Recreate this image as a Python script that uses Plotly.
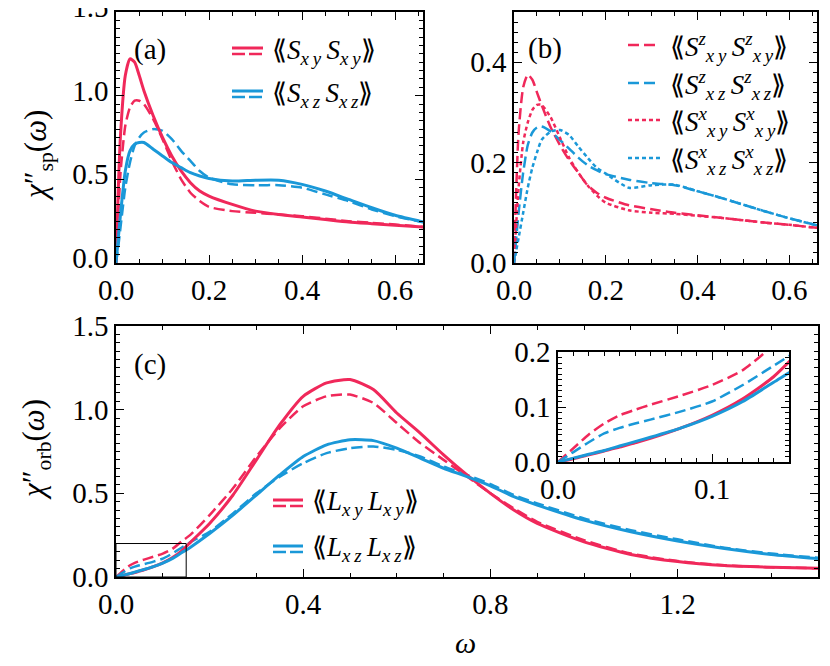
import plotly.graph_objects as go

W, H = 830, 666
OFF = 8  # default page margin around the plot div
FONT = 'Liberation Serif'
RED = '#F0285A'
BLUE = '#1A98D8'

# ---- panel (a): spin, in-plane / out-of-plane ----
w_sp = [0, 0.005, 0.01, 0.02, 0.03, 0.04, 0.05, 0.06, 0.08, 0.10, 0.12, 0.14,
        0.16, 0.18, 0.20, 0.25, 0.30, 0.35, 0.40, 0.45, 0.50, 0.55, 0.60, 0.66]
sxy = [0, 0.45, 0.78, 1.12, 1.22, 1.20, 1.12, 1.03, 0.88, 0.75, 0.64, 0.55,
       0.48, 0.43, 0.40, 0.35, 0.31, 0.29, 0.275, 0.26, 0.245, 0.235, 0.225, 0.215]
sxy_d = [0, 0.30, 0.55, 0.82, 0.93, 0.97, 0.97, 0.95, 0.86, 0.74, 0.61, 0.50,
         0.42, 0.37, 0.335, 0.31, 0.30, 0.29, 0.28, 0.265, 0.25, 0.24, 0.23, 0.215]
sxz = [0, 0.15, 0.30, 0.55, 0.67, 0.71, 0.72, 0.72, 0.68, 0.64, 0.60, 0.57,
       0.54, 0.52, 0.505, 0.49, 0.495, 0.495, 0.47, 0.43, 0.38, 0.33, 0.285, 0.245]
sxz_d = [0, 0.10, 0.22, 0.45, 0.60, 0.70, 0.75, 0.78, 0.80, 0.79, 0.74, 0.67,
         0.61, 0.55, 0.51, 0.47, 0.465, 0.465, 0.45, 0.41, 0.37, 0.32, 0.28, 0.245]

# ---- panel (b): spin components ----
szxy = [0, 0.15, 0.26, 0.35, 0.375, 0.365, 0.34, 0.315, 0.27, 0.235, 0.205, 0.18,
        0.155, 0.14, 0.13, 0.115, 0.107, 0.10, 0.095, 0.09, 0.085, 0.08, 0.076, 0.07]
szxz = [0, 0.05, 0.10, 0.18, 0.235, 0.26, 0.27, 0.272, 0.262, 0.245, 0.228, 0.21,
        0.195, 0.185, 0.177, 0.166, 0.159, 0.155, 0.143, 0.13, 0.116, 0.102, 0.089, 0.075]
sxxy = [0, 0.08, 0.15, 0.24, 0.28, 0.305, 0.315, 0.315, 0.29, 0.25, 0.21, 0.18,
        0.155, 0.135, 0.12, 0.105, 0.10, 0.098, 0.094, 0.09, 0.085, 0.08, 0.076, 0.07]
sxxz = [0, 0.025, 0.05, 0.10, 0.15, 0.19, 0.22, 0.245, 0.262, 0.265, 0.255, 0.232,
        0.21, 0.19, 0.178, 0.150, 0.155, 0.156, 0.143, 0.13, 0.116, 0.102, 0.089, 0.075]

# ---- panel (c): orbital ----
w_orb = [0, 0.01, 0.02, 0.03, 0.04, 0.05, 0.06, 0.08, 0.10, 0.12, 0.14, 0.16, 0.20,
         0.25, 0.30, 0.35, 0.40, 0.45, 0.50, 0.55, 0.60, 0.65, 0.70, 0.75, 0.80,
         0.85, 0.90, 1.0, 1.1, 1.2, 1.3, 1.4, 1.5]
lxy = [0, 0.006, 0.013, 0.02, 0.027, 0.035, 0.043, 0.062, 0.085, 0.115, 0.155, 0.21, 0.32,
       0.49, 0.70, 0.91, 1.08, 1.16, 1.18, 1.12, 0.98, 0.86, 0.73, 0.61, 0.50,
       0.40, 0.32, 0.21, 0.135, 0.092, 0.068, 0.058, 0.052]
lxy_d = [0, 0.025, 0.05, 0.07, 0.085, 0.095, 0.104, 0.121, 0.14, 0.167, 0.212, 0.255, 0.37,
         0.53, 0.72, 0.89, 1.02, 1.08, 1.09, 1.04, 0.92, 0.80, 0.70, 0.60, 0.50,
         0.41, 0.33, 0.22, 0.14, 0.095, 0.07, 0.058, 0.052]
lxz = [0, 0.007, 0.014, 0.021, 0.029, 0.037, 0.045, 0.062, 0.083, 0.11, 0.145, 0.18, 0.26,
       0.37, 0.49, 0.61, 0.72, 0.79, 0.82, 0.815, 0.77, 0.71, 0.65, 0.60, 0.545,
       0.48, 0.43, 0.34, 0.27, 0.215, 0.17, 0.135, 0.11]
lxz_d = [0, 0.018, 0.036, 0.052, 0.062, 0.07, 0.077, 0.092, 0.11, 0.14, 0.175, 0.21, 0.27,
         0.38, 0.50, 0.60, 0.68, 0.74, 0.77, 0.78, 0.76, 0.72, 0.66, 0.61, 0.555,
         0.49, 0.44, 0.35, 0.28, 0.225, 0.175, 0.14, 0.115]

INSET_X = [0, 0.15]
INSET_Y = [0, 0.2]

FW, FH = W - OFF, H - OFF


def px(x):
    return (x - OFF) / FW


def py(y):
    return 1 - (y - OFF) / FH


fig = go.Figure()


def add_line(x, y, color, dash, xa, ya, width=3):
    fig.add_trace(go.Scatter(
        x=x, y=y, mode='lines', xaxis=xa, yaxis=ya,
        line=dict(color=color, dash=dash, width=width, shape='spline', smoothing=0.6),
        showlegend=False, hoverinfo='skip'))


DASH = '11px,5px'
SHORT = '4px,3px'

add_line(w_sp, sxy_d, RED, DASH, 'x', 'y', 2.5)
add_line(w_sp, sxz_d, BLUE, DASH, 'x', 'y', 2.5)
add_line(w_sp, sxy, RED, 'solid', 'x', 'y')
add_line(w_sp, sxz, BLUE, 'solid', 'x', 'y')

add_line(w_sp, szxy, RED, DASH, 'x2', 'y2', 2.5)
add_line(w_sp, szxz, BLUE, DASH, 'x2', 'y2', 2.5)
add_line(w_sp, sxxy, RED, SHORT, 'x2', 'y2', 2.5)
add_line(w_sp, sxxz, BLUE, SHORT, 'x2', 'y2', 2.5)

for xa, ya in [('x3', 'y3'), ('x4', 'y4')]:
    add_line(w_orb, lxy_d, RED, DASH, xa, ya, 2.5)
    add_line(w_orb, lxz_d, BLUE, DASH, xa, ya, 2.5)
    add_line(w_orb, lxy, RED, 'solid', xa, ya)
    add_line(w_orb, lxz, BLUE, 'solid', xa, ya)


def axis(rng, dom, anchor, vals, minor, size=29, shift=0):
    return dict(
        range=rng, domain=dom, anchor=anchor, automargin=False,
        ticklabeloverflow='allow', ticklabelshift=shift,
        showline=True, linecolor='black', linewidth=1.6, mirror='ticks',
        ticks='inside', ticklen=8, tickwidth=1.3, tickcolor='black',
        tickmode='array', tickvals=vals, ticktext=[f'{v:.1f}' for v in vals],
        minor=dict(ticks='inside', ticklen=4, tickwidth=1, tickcolor='black',
                   tick0=0, dtick=minor),
        showgrid=False, zeroline=False,
        tickfont=dict(family=FONT, size=size, color='black'))


fig.update_layout(
    width=FW, height=FH, margin=dict(l=0, r=0, t=0, b=0),
    plot_bgcolor='white',
    font=dict(family=FONT),
    xaxis=axis([0, 0.66], [px(116), px(423)], 'y', [0, 0.2, 0.4, 0.6], 0.05),
    yaxis=axis([0, 1.5], [py(263), py(12)], 'x', [0, 0.5, 1.0, 1.5], 0.05, shift=-5),
    xaxis2=axis([0, 0.66], [px(514), px(817)], 'y2', [0, 0.2, 0.4, 0.6], 0.05),
    yaxis2=axis([0, 0.5], [py(263), py(12)], 'x2', [0, 0.2, 0.4], 0.02),
    xaxis3=axis([0, 1.5], [px(116), px(818)], 'y3', [0, 0.4, 0.8, 1.2], 0.1),
    yaxis3=axis([0, 1.5], [py(577), py(326)], 'x3', [0, 0.5, 1.0, 1.5], 0.05),
    xaxis4=axis(INSET_X, [px(558), px(789)], 'y4', [0, 0.1], 0.01),
    yaxis4=axis(INSET_Y, [py(462), py(352)], 'x4', [0, 0.1, 0.2], 0.01),
)

shapes = []
annotations = []


def glyph(x0, x1, y, color, dash, width=3):
    shapes.append(dict(type='line', xref='paper', yref='paper',
                       x0=px(x0), x1=px(x1), y0=py(y), y1=py(y),
                       line=dict(color=color, dash=dash, width=width)))


def text(x, y, s, size=21, xanchor='left', angle=0):
    annotations.append(dict(xref='paper', yref='paper', x=px(x), y=py(y), text=s,
                            showarrow=False, xanchor=xanchor, yanchor='middle',
                            textangle=angle, font=dict(family=FONT, size=size, color='black')))


def corr(op, idx, sup=''):
    s = f'<i>{op}</i>'
    if sup:
        s += f'<sup><i>{sup}</i></sup>'
    s += '<sub><i>' + '\u2009'.join(idx) + '</i></sub>'
    return '⟪' + s + '\u2009' + s + '⟫'


LS = 27
# legend (a)
glyph(232, 263, 48, RED, 'solid')
glyph(232, 263, 54, RED, '13px,4px', 2.5)
text(270, 52, corr('S', 'xy'), LS)
glyph(232, 263, 91, BLUE, 'solid')
glyph(232, 263, 97, BLUE, '13px,4px', 2.5)
text(270, 95, corr('S', 'xz'), LS)

# legend (b)
glyph(628, 660, 45, RED, DASH, 2.5)
text(668, 47, corr('S', 'xy', 'z'), LS)
glyph(628, 660, 83, BLUE, DASH, 2.5)
text(668, 85, corr('S', 'xz', 'z'), LS)
glyph(628, 660, 120, RED, SHORT, 2.5)
text(668, 122, corr('S', 'xy', 'x'), LS)
glyph(628, 660, 158, BLUE, SHORT, 2.5)
text(668, 160, corr('S', 'xz', 'x'), LS)

# legend (c)
glyph(273, 303, 500, RED, 'solid')
glyph(273, 303, 506, RED, '13px,4px', 2.5)
text(310, 503, corr('L', 'xy'), LS)
glyph(273, 303, 546, BLUE, 'solid')
glyph(273, 303, 552, BLUE, '13px,4px', 2.5)
text(310, 549, corr('L', 'xz'), LS)

# panel labels and axis titles
text(150, 50, '(a)', 29, 'center')
text(545, 48, '(b)', 29, 'center')
text(150, 364, '(c)', 29, 'center')
text(465, 642, '<i>ω</i>', 30, 'center')
text(38, 155, '<i>χ</i>″<sub>sp</sub>(<i>ω</i>)', 31, 'center', -90)
text(36, 450, '<i>χ</i>″<sub>orb</sub>(<i>ω</i>)', 31, 'center', -90)

# zoom box marking the inset region
shapes.append(dict(type='rect', xref='x3', yref='y3',
                   x0=INSET_X[0], x1=INSET_X[1], y0=INSET_Y[0], y1=INSET_Y[1],
                   line=dict(color='black', width=1)))

fig.update_layout(shapes=shapes, annotations=annotations)

fig.write_html("out.html")
